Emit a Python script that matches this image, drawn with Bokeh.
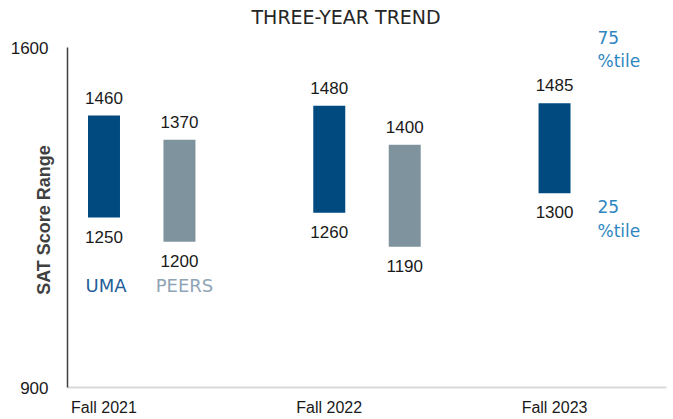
from bokeh.plotting import figure
from bokeh.models import Range1d, FixedTicker, ColumnDataSource, LabelSet, Label, Title
from bokeh.embed import file_html
from bokeh.resources import INLINE
from bokeh.core.properties import value

# ---- data ----
terms = ["Fall 2021", "Fall 2022", "Fall 2023"]
uma_low = [1250, 1260, 1300]
uma_high = [1460, 1480, 1485]
peer_terms = ["Fall 2021", "Fall 2022"]
peer_low = [1200, 1190]
peer_high = [1410, 1400]          # drawn extent of the bar
peer_high_label = [1370, 1400]    # value printed above the bar
y_ticks = [900, 1600]

# ---- colours / styles ----
UMA_C = "#004A80"
PEER_C = "#7F939E"
UMA_TXT = "#1F5F99"
PEER_TXT = "#8FA5B5"
PCT_TXT = "#2E86C1"
NUM_FONT = "Liberation Sans"
SOFT_FONT = "DejaVu Sans"

PEER_OFFSET = 0.335
BAR_W = 0.142

uma_x = [terms.index(t) for t in terms]
peer_x = [terms.index(t) + PEER_OFFSET for t in peer_terms]

p = figure(width=673, height=419,
           x_range=Range1d(-0.162, 2.497), y_range=Range1d(900, 1600),
           output_backend="svg", toolbar_location=None,
           min_border_left=67, min_border_right=7,
           min_border_top=47, min_border_bottom=32)
p.outline_line_color = None
p.grid.visible = False
p.background_fill_color = "white"
p.border_fill_color = "white"

# "75" marker sits above the plotting area, next to the title row
p.add_layout(Title(text="75", align="left", offset=530, standoff=3,
                   vertical_align="top",
                   text_font=SOFT_FONT, text_font_size="17px",
                   text_font_style="normal", text_color=PCT_TXT), "above")
# chart title
p.add_layout(Title(text="THREE-YEAR TREND", align="left", offset=184, standoff=0,
                   vertical_align="top",
                   text_font=SOFT_FONT, text_font_size="19px",
                   text_font_style="normal", text_color="#262626"), "above")

# bars
p.vbar(x=uma_x, bottom=uma_low, top=uma_high, width=BAR_W,
       fill_color=UMA_C, line_color=None)
p.vbar(x=peer_x, bottom=peer_low, top=peer_high, width=BAR_W,
       fill_color=PEER_C, line_color=None)

# axes
ya = p.yaxis[0]
ya.ticker = FixedTicker(ticks=y_ticks)
ya.major_tick_line_color = None
ya.major_tick_out = 0
ya.major_tick_in = 0
ya.minor_tick_line_color = None
ya.axis_line_color = "#404040"
ya.axis_line_width = 1.5
ya.major_label_standoff = 19
ya.major_label_text_font = NUM_FONT
ya.major_label_text_font_size = "17px"
ya.major_label_text_color = "#1a1a1a"
ya.axis_label = "SAT Score  Range"
ya.axis_label_standoff = -46
ya.axis_label_text_font = NUM_FONT
ya.axis_label_text_font_size = "18px"
ya.axis_label_text_font_style = "bold"
ya.axis_label_text_color = "#404040"

xa = p.xaxis[0]
xa.ticker = FixedTicker(ticks=uma_x)
xa.major_label_overrides = {i: t for i, t in zip(uma_x, terms)}
xa.major_tick_line_color = None
xa.major_tick_out = 0
xa.major_tick_in = 0
xa.minor_tick_line_color = None
xa.axis_line_color = "#D9D9D9"
xa.axis_line_width = 2
xa.major_label_standoff = 11
xa.major_label_text_font = NUM_FONT
xa.major_label_text_font_size = "16px"
xa.major_label_text_color = "#1a1a1a"

# value labels
def add_labels(xs, ys, texts, dy):
    src = ColumnDataSource(dict(x=xs, y=ys, t=[str(v) for v in texts]))
    p.add_layout(LabelSet(x="x", y="y", text="t", source=src, y_offset=dy,
                          text_align="center", text_baseline="middle",
                          text_font=value(NUM_FONT), text_font_size=value("17px"),
                          text_color="#1a1a1a"))

add_labels(uma_x, uma_high, uma_high, 18)
add_labels(uma_x, uma_low, uma_low, -19)
add_labels(peer_x, peer_high, peer_high_label, 18)
add_labels(peer_x, peer_low, peer_low, -19)

# legend-like labels
p.add_layout(Label(x=uma_x[0], y=uma_low[0], y_offset=-68, x_offset=2, text="UMA",
                   text_align="center", text_baseline="middle",
                   text_font=SOFT_FONT, text_font_size="18px", text_color=UMA_TXT))
p.add_layout(Label(x=peer_x[0], y=uma_low[0], y_offset=-68, x_offset=5, text="PEERS",
                   text_align="center", text_baseline="middle",
                   text_font=SOFT_FONT, text_font_size="18px", text_color=PEER_TXT))

# percentile markers next to the last UMA bar
for txt, yv, dy in [("%tile", uma_high[-1], 42),
                    ("25", uma_low[-1], -13), ("%tile", uma_low[-1], -38)]:
    p.add_layout(Label(x=uma_x[-1], y=yv, x_offset=43, y_offset=dy, text=txt,
                       text_align="left", text_baseline="middle",
                       text_font=SOFT_FONT, text_font_size="17px", text_color=PCT_TXT))

open("out.html", "w").write(file_html(p, INLINE))
